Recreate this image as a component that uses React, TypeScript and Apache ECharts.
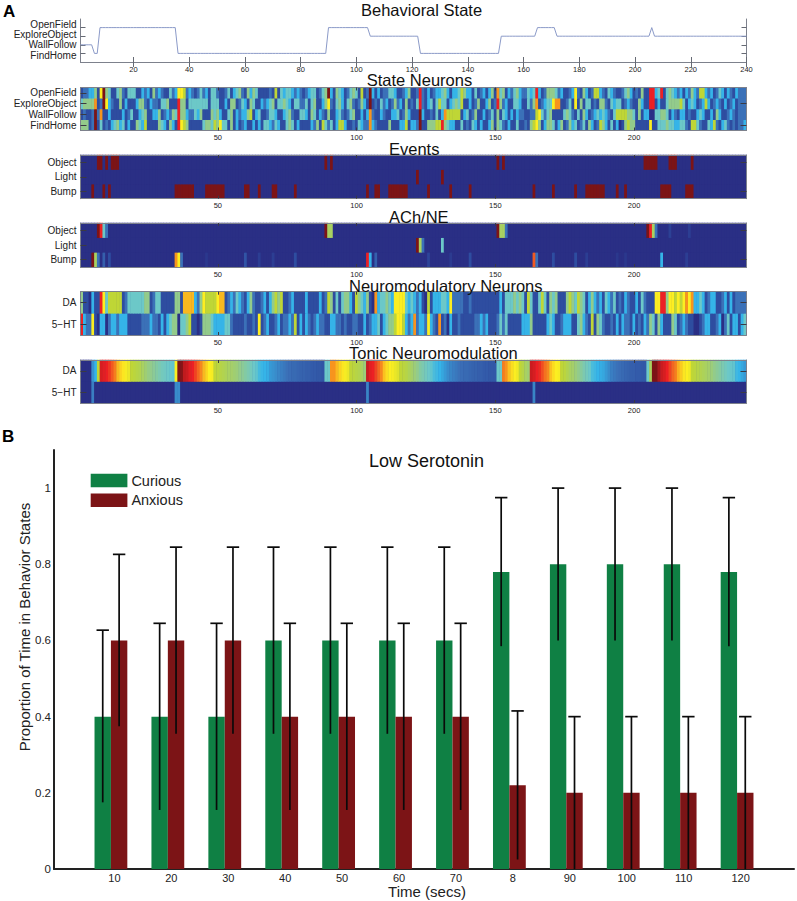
import React, { useEffect, useRef } from "react";
import * as echarts from "echarts";

const FONT = "Liberation Sans";
const CELLS = Array.from({ length: 240 }, (_, i) => String(i + 1));

// Behavioral state: [first second, last second, state]
const behaviorNames = ["FindHome", "WallFollow", "ExploreObject", "OpenField"];
const behaviorRuns = [[1,5,2],[6,7,1],[8,35,4],[36,89,1],[90,104,4],[105,122,3],[123,151,1],[152,164,3],[165,171,4],[172,205,3],[206,206,4],[207,240,3]];

// State neurons, activity level per second (0 navy ... 10 dark red)
const stateOpenField = [1,2,2,3,3,5,1,7,10,5,4,1,1,4,5,2,1,4,4,4,1,1,3,2,3,1,5,2,3,2,1,1,4,2,3,7,7,6,2,3,2,1,2,4,2,3,1,4,4,2,1,1,2,4,1,3,4,5,2,1,5,3,5,4,1,1,1,1,2,1,6,1,4,3,4,4,3,2,3,2,1,2,3,4,4,1,2,4,5,10,3,1,5,4,3,1,2,4,5,4,1,6,1,2,10,3,1,3,1,2,2,4,4,3,1,1,2,3,5,1,1,2,9,2,1,3,1,2,3,3,4,5,3,1,3,3,4,6,5,3,3,1,4,1,2,3,1,3,5,1,8,4,5,1,3,2,4,5,3,2,2,4,3,4,9,3,1,2,5,5,5,4,2,3,1,1,2,3,7,2,1,5,3,1,2,6,6,3,2,1,4,3,2,1,1,2,4,5,3,1,2,1,5,1,1,9,9,3,4,9,1,4,5,4,3,2,3,1,3,2,5,3,2,6,6,3,2,3,1,2,4,3,1,3,2,1,3,2,2,2];
const stateExploreObject = [4,5,5,5,5,8,1,2,10,7,3,2,1,1,5,1,3,1,1,1,3,5,5,2,1,3,2,2,1,4,4,5,1,1,1,9,5,5,1,4,4,4,4,4,4,4,1,4,4,4,1,1,3,1,5,5,1,2,4,3,1,5,4,1,1,3,2,3,4,5,1,4,4,5,4,3,1,4,4,2,2,4,1,4,5,1,1,3,5,7,2,1,4,5,3,1,4,5,2,1,2,5,3,1,10,1,2,1,4,2,3,1,2,5,2,3,1,5,1,2,1,4,9,2,1,3,4,1,4,6,4,4,1,3,4,5,4,6,1,1,3,1,2,5,1,1,3,5,1,2,9,5,2,3,1,1,4,4,3,1,1,4,2,5,8,1,2,3,4,4,7,8,8,1,1,2,4,1,7,1,5,1,4,4,1,2,1,5,5,2,1,4,3,4,4,1,2,3,2,1,1,5,3,1,1,9,9,1,3,1,1,4,5,5,5,5,6,4,1,3,4,3,1,2,3,6,3,1,2,3,2,1,3,1,2,3,1,2,2,2];
const stateWallFollow = [1,2,1,1,2,10,2,8,1,1,3,1,1,1,1,3,1,2,4,1,1,3,4,5,1,1,3,3,5,1,2,3,2,5,4,9,5,5,3,2,2,4,3,5,1,1,1,5,4,5,3,1,1,4,5,1,3,2,3,3,5,6,1,3,4,1,1,2,4,4,3,1,1,3,4,5,2,1,1,4,4,3,1,5,4,1,3,2,1,5,1,1,3,4,2,1,2,4,5,1,1,3,1,3,8,2,1,1,3,2,1,1,3,3,4,1,2,5,3,1,1,1,10,3,1,1,2,1,4,1,3,8,6,6,6,6,6,1,3,4,1,2,5,1,1,3,1,2,4,1,5,1,4,3,1,3,1,3,2,2,1,1,2,2,6,7,4,2,4,5,1,1,1,1,4,5,4,2,1,4,1,5,3,1,2,3,4,3,4,3,2,1,4,6,6,6,6,5,5,4,1,5,1,3,3,0,0,4,4,5,5,4,1,3,2,1,3,3,1,2,1,1,3,4,3,1,1,3,1,5,3,1,1,2,3,2,1,2,2,2];
const stateFindHome = [5,5,5,1,2,10,1,4,1,2,1,3,4,5,3,4,1,3,1,1,5,4,3,6,1,1,1,1,5,4,3,1,5,3,1,9,7,6,5,1,1,1,1,1,4,5,5,4,6,5,7,4,4,1,5,1,3,1,2,3,1,1,3,1,3,1,4,4,3,2,4,3,1,1,4,5,4,1,3,1,1,1,1,3,2,5,1,6,4,2,4,1,3,6,6,3,1,1,2,1,4,3,2,2,8,3,2,1,1,1,1,5,1,1,1,3,3,6,1,3,3,2,10,1,1,5,5,5,6,6,9,5,4,3,3,1,1,4,1,2,1,4,3,1,3,1,1,3,5,1,5,4,2,1,3,1,1,4,1,1,2,1,5,6,7,5,1,3,5,5,4,1,3,5,1,2,5,3,4,1,2,4,1,5,3,1,2,6,5,3,1,4,1,3,0,1,5,6,5,5,1,1,1,1,1,7,1,1,4,4,4,5,4,4,3,3,4,4,2,1,6,6,4,2,1,1,4,3,6,2,1,3,4,2,1,2,1,2,2,3];

// Events: [first second, last second] during which each event is on
const eventNames = ["Bump", "Light", "Object"];
const eventsObject = [[7,8],[10,10],[12,14],[89,89],[91,91],[151,151],[153,153],[204,208],[213,215],[221,221]];
const eventsLight = [[122,122],[131,131]];
const eventsBump = [[5,5],[9,9],[11,11],[35,41],[46,52],[60,61],[65,65],[70,71],[78,78],[104,104],[107,108],[112,118],[126,126],[134,134],[141,141],[164,164],[171,171],[179,179],[183,189],[194,194],[197,197],[210,213],[219,221]];

// ACh/NE: [second, level], everything else at 0
const achObject = [[7,10],[8,9],[9,4],[10,2],[89,10],[90,5.5],[91,5.5],[151,10],[152,5.5],[153,5.5],[154,2],[205,10],[206,9],[207,5.5],[208,2],[213,0.6],[220,0.5]];
const achLight = [[122,10],[123,5.5],[124,2],[131,4]];
const achBump = [[5,10],[6,5.5],[7,2],[9,1.5],[11,1],[35,8],[36,7],[37,2],[46,0.3],[60,1.2],[65,0.5],[70,0.5],[78,1],[104,9],[105,3],[107,1.5],[126,0.7],[134,0.4],[141,1],[164,8.5],[165,2],[171,1],[179,1],[183,0.5],[194,0.3],[197,0.3],[210,3],[219,0.5]];

// Neuromodulatory neurons
const modNames = ["5\u2212HT", "DA"];
const neuronDA = [5,1,1,0,3,1,1,9,7,4,6,6,6,6,6,1,2,4,4,4,4,4,4,5,5,1,2,4,4,1,1,1,1,1,5,5,1,7.6,7.6,7.6,7.6,3,2,5,7,6,6,6,6,7,7.6,7.6,1,2,3,2,4,3,2,1,3,5,2,1,1,2,3,1,3,5,6,5,6,1,1,2,3,1,1,1,1,3,1,1,1,1,3,1,2,6,5,1,4,1,4,5,5,3,1,6,5,4,3,5,1,0,8,3,4,4,5,4,3,7,7,7,7,4,3,4,3,2,3,1,0,6,1,3,3,3,4,4,3,7,2,2,2,2,1,1,2,1,1,1,1,1,1,1,1,1,1,3,1,4,4,4,5,4,5,4,1,6,4,1,1,4,6,4,1,5,4,5,1,1,1,5,6,5,4,6,5,4,1,3,5,3,2,3,1,4,3,2,4,1,2,1,3,2,1,1,3,1,4,2,1,1,1,7,7,9,9,5,7,7,6,7,6,7,8,7,8,3,3,4,3,1,2,3,3,1,1,2,3,1,3,1,2,2,2,2];
const neuron5HT = [9,3,2,2,7,1,0,3,3,0,2,3,3,2,3,3,3,1,1,1,1,1,2,2,2,3,2,2,1,3,1,3,4,5,5,0,4,4,5,6,1,1,0,1,5,5,5,4,3,3,3,3,4,4,2,1,1,1,1,2,1,1,2,1,7,1,2,3,1,1,2,3,1,2,2,3,2,6,1,3,1,3,2,1,2,3,2,2,1,1,3,3,2,2,1,2,1,1,2,2,1,1,3,1,2,3,3,4,1,3,4,5,5,6,7,7,6,3,2,3,8,2,3,3,2,7,3,2,1,8,1,2,0,3,1,1,2,1,1,1,1,1,2,2,3,2,3,1,1,1,2,4,2,4,1,1,1,1,1,3,3,3,5,1,1,1,1,1,3,4,3,1,1,2,3,3,3,1,1,4,5,3,2,1,6,1,5,4,2,1,1,2,1,3,1,3,2,2,1,3,1,2,1,3,2,5,4,1,5,3,1,1,1,5,4,1,2,3,2,1,1,0,0,1,2,3,3,1,1,2,3,0,2,4,1,3,3,1,3,4];

// Tonic neuromodulation
const tonicDA = [0,0,0,0,2.5,3,6,9.2,9.1,9,8.8,8.5,8.2,7.6,7.3,7.1,6.9,6.7,6,5.9,5.8,5.7,5.5,5.3,5.1,5,4.8,4.6,4.4,4.2,4.1,4,3.9,3.8,7,10,9.9,9.4,9.3,9.1,9,8.7,8.4,8.1,7.6,7.3,7,6.9,6,5.9,5.8,5.7,5.6,5.5,5.4,5.3,5.2,5,4.8,4.6,4.4,4.2,4,3.8,3.3,3.1,3,2.9,2.6,2.5,2.4,2.3,2.2,2.1,2,1.9,1.8,1.8,1.7,1.6,1.6,1.5,1.5,1.4,1.4,1.3,1.3,1.2,4,4,8,8,7.6,7.3,7.1,6.9,6.7,6,5.9,5.8,5.7,5.5,5.2,9.3,9.1,9,8.7,8.4,8.1,7.5,7.2,7,6.9,6.7,6.5,6,5.9,5.8,5.6,5.4,5.2,5,4.6,4.4,4.2,4,3.8,3.4,3.2,3,2.8,2.6,2.4,2.3,2.2,2.1,2,1.9,1.8,1.8,1.7,1.6,1.6,1.5,1.5,1.4,1.4,1.3,1.3,1.3,4,4,8.2,8,7.5,7.2,7,6.8,6,5.8,5.5,5.3,9.3,9.2,9,8.9,8.6,8.3,8.1,7.5,7.2,7,6.9,6,5.9,5.7,5.5,5.4,5.2,5,4.7,4.4,4.2,4,3.4,3.2,3,2.9,2.8,2.6,2.4,2.2,2.1,2,1.9,1.8,1.7,1.6,1.5,1.5,1.4,1.4,1.3,1.3,4,5.5,10,10,9.6,9.3,9.2,9,8.7,8.4,8.2,7.7,7.4,7.1,7,6.8,6,5.9,5.8,5.7,5.6,5.5,5.4,5.2,5,4.8,4.6,4.4,4.2,4,3.9,3.8,3.2,3,2.8,2.6];
const tonic5HT = [[5,2.2],[35,2.4],[36,2.4],[104,2.3],[164,2.3]];

// Panel B
const timeTicks = [10,20,30,40,50,60,70,80,90,100,110,120];
const timeLabels = ["10","20","30","40","50","60","70","8","90","100","110","120"];
const curious = [0.4,0.4,0.4,0.6,0.6,0.6,0.6,0.78,0.8,0.8,0.8,0.78];
const curiousLow = [0.175,0.155,0.155,0.355,0.355,0.355,0.355,0.585,0.6,0.6,0.6,0.585];
const curiousHigh = [0.627,0.645,0.645,0.845,0.845,0.845,0.845,0.975,1,1,1,0.975];
const anxious = [0.6,0.6,0.6,0.4,0.4,0.4,0.4,0.22,0.2,0.2,0.2,0.2];
const anxiousLow = [0.375,0.355,0.355,0.155,0.155,0.155,0.155,0.025,0,0,0,0];
const anxiousHigh = [0.826,0.845,0.845,0.645,0.645,0.645,0.645,0.415,0.4,0.4,0.4,0.4];

const JET = ["#2a2f85","#2e4da0","#3b71b8","#35b4e8","#6cc8c8","#93cb8b","#bfd636","#fcee21","#f7941e","#ec2024","#7c1416"];
const LEFT = 80.5, WIDTH = 666, HALF_BAR = 8.2;

function fromRuns(runs: number[][]) {
  const a = new Array(240).fill(0);
  runs.forEach(([s, e]) => { for (let i = s; i <= e; i++) a[i - 1] = 10; });
  return a;
}
function fromPulses(p: number[][]) {
  const a = new Array(240).fill(0);
  p.forEach(([c, v]) => { a[c - 1] = v; });
  return a;
}
function behaviorSeries() {
  const a: number[] = [];
  behaviorRuns.forEach(([s, e, v]) => { for (let i = s; i <= e; i++) a.push(v); });
  return a;
}

const PANELS = [
  { top: 87.5, height: 43, names: behaviorNames, rows: [stateFindHome, stateWallFollow, stateExploreObject, stateOpenField] },
  { top: 155, height: 43.7, names: eventNames, rows: [fromRuns(eventsBump), fromRuns(eventsLight), fromRuns(eventsObject)] },
  { top: 223, height: 44, names: eventNames, rows: [fromPulses(achBump), fromPulses(achLight), fromPulses(achObject)] },
  { top: 291.7, height: 43.3, names: modNames, rows: [neuron5HT, neuronDA] },
  { top: 360, height: 43, names: modNames, rows: [fromPulses(tonic5HT), tonicDA] },
];
const TITLES: [string, number, number][] = [
  ["Behavioral State", 361, 1],
  ["State Neurons", 366.7, 71],
  ["Events", 389, 140],
  ["ACh/NE", 389, 208],
  ["Neuromodulatory Neurons", 349, 277],
  ["Tonic Neuromodulation", 349, 344],
];

function buildOption() {
  const grid: any[] = [], xAxis: any[] = [], yAxis: any[] = [], series: any[] = [];
  const GREY = "#7d818c", TICK = "#3a3a44";
  const textBase = { fontFamily: FONT, color: "#222" };

  // Behavioral state line
  grid.push({ left: LEFT, width: WIDTH, top: 19, height: 43 });
  const lineTick = { show: true, inside: true, length: 5, lineStyle: { color: "#666a74", width: 1 } };
  xAxis.push({
    gridIndex: 0, type: "category", data: CELLS, boundaryGap: false, position: "bottom",
    axisLine: { lineStyle: { color: GREY, width: 1 } },
    axisTick: { ...lineTick, alignWithLabel: true, interval: (i: number) => (i + 1) % 20 === 0 },
    axisLabel: { ...textBase, fontSize: 7.5, margin: 3, interval: (i: number) => (i + 1) % 20 === 0 },
  });
  xAxis.push({
    gridIndex: 0, type: "category", data: CELLS, boundaryGap: false, position: "top",
    axisLine: { lineStyle: { color: GREY, width: 1 } },
    axisTick: { ...lineTick, alignWithLabel: true, interval: (i: number) => (i + 1) % 20 === 0 },
    axisLabel: { show: false },
  });
  const stateAxis = (position: string) => ({
    gridIndex: 0, type: "value", min: 0, max: 5, interval: 1, position, splitLine: { show: false },
    axisLine: { show: true, lineStyle: { color: GREY, width: 1 } },
    axisTick: { ...lineTick, customValues: [1, 2, 3, 4] },
    axisLabel: { show: false },
  });
  yAxis.push(stateAxis("left"), stateAxis("right"));
  yAxis.push({
    gridIndex: 0, type: "value", min: 0.307, max: 4.564, position: "left", splitLine: { show: false },
    axisLine: { show: false }, axisTick: { show: false },
    axisLabel: { ...textBase, fontSize: 10, margin: 4, customValues: [1, 2, 3, 4], formatter: (v: number) => behaviorNames[v - 1] || "" },
  });
  series.push({
    type: "line", xAxisIndex: 0, yAxisIndex: 0, data: behaviorSeries(), showSymbol: false, symbol: "none",
    lineStyle: { color: "#8b9ac8", width: 1 },
  });

  // Heat maps
  const heatIndex: number[] = [];
  PANELS.forEach((p, k) => {
    const g = k + 1;
    grid.push({ left: LEFT, width: WIDTH, top: p.top, height: p.height, show: true, backgroundColor: JET[0], borderWidth: 0 });
    const ax = { lineStyle: { color: GREY, width: 1 } };
    const tick = { show: true, inside: true, length: 3, alignWithLabel: true, lineStyle: { color: TICK, width: 1 } };
    const every50 = (i: number) => (i + 1) % 50 === 0;
    const xi = xAxis.length;
    xAxis.push({
      gridIndex: g, type: "category", data: CELLS, position: "bottom", z: 5, axisLine: ax,
      axisTick: { ...tick, interval: every50 },
      axisLabel: { ...textBase, fontSize: 7.5, margin: 3, interval: every50 },
    });
    xAxis.push({
      gridIndex: g, type: "category", data: CELLS, position: "top", z: 5, axisLine: ax,
      axisTick: { ...tick, interval: every50 }, axisLabel: { show: false },
    });
    const yi = yAxis.length;
    yAxis.push({
      gridIndex: g, type: "category", data: p.names, position: "left", z: 5, axisLine: ax,
      axisTick: { ...tick, length: 6 },
      axisLabel: { ...textBase, fontSize: 10, margin: 4, interval: 0 },
    });
    yAxis.push({
      gridIndex: g, type: "category", data: p.names, position: "right", z: 5, axisLine: ax,
      axisTick: { ...tick, length: 6 }, axisLabel: { show: false },
    });
    const data: number[][] = [];
    p.rows.forEach((row, r) => row.forEach((v: number, c: number) => data.push([c, r, v])));
    heatIndex.push(series.length);
    series.push({ type: "heatmap", xAxisIndex: xi, yAxisIndex: yi, data, progressive: 0, itemStyle: { borderWidth: 0 } });
  });

  // Panel B
  const gb = grid.length;
  grid.push({ left: 54, width: 740, top: 450, height: 419 });
  const xb = xAxis.length;
  xAxis.push({
    gridIndex: gb, type: "value", min: 0, max: 130, interval: 10, splitLine: { show: false },
    axisLine: { show: true, lineStyle: { color: "#222", width: 2 } }, axisTick: { show: false },
    axisLabel: {
      ...textBase, fontSize: 11, margin: 3, padding: [0, 0, 0, 7],
      formatter: (v: number) => { const i = timeTicks.indexOf(v); return i >= 0 ? timeLabels[i] : ""; },
    },
    name: "Time (secs)", nameLocation: "middle", nameGap: 14,
    nameTextStyle: { fontFamily: FONT, fontSize: 15, color: "#222", padding: [0, 0, 0, 6] },
  });
  const yb = yAxis.length;
  yAxis.push({
    gridIndex: gb, type: "value", min: 0, max: 1.1, interval: 0.2, splitLine: { show: false },
    axisLine: { show: true, lineStyle: { color: "#222", width: 2 } }, axisTick: { show: false },
    axisLabel: { ...textBase, fontSize: 11.5, margin: 3, showMaxLabel: false, formatter: (v: number) => String(+v.toFixed(1)) },
    name: "Proportion of Time in Behavior States", nameLocation: "middle", nameGap: 22, nameMoveOverlap: false,
    nameTextStyle: { fontFamily: FONT, fontSize: 15, color: "#222", padding: [0, 0, 0, 65] },
  });
  const bar = (name: string, color: string, values: number[]) => ({
    name, type: "bar", xAxisIndex: xb, yAxisIndex: yb, barWidth: HALF_BAR * 2, barGap: "0%",
    data: timeTicks.map((t, i) => [t, values[i]]), itemStyle: { color },
  });
  series.push(bar("Curious", "#0f8044", curious), bar("Anxious", "#7c1416", anxious));
  const errorBars = (name: string, shift: number, low: number[], high: number[]) => ({
    name, type: "custom", xAxisIndex: xb, yAxisIndex: yb, z: 4,
    data: timeTicks.map((t, i) => [t, low[i], high[i]]),
    encode: { x: 0, y: [1, 2] },
    renderItem: (_: any, api: any) => {
      const a = api.coord([api.value(0), api.value(1)]);
      const b = api.coord([api.value(0), api.value(2)]);
      const x = a[0] + shift;
      const style = { stroke: "#0a0a0a", lineWidth: 1.7, fill: "none" };
      return {
        type: "group",
        children: [
          { type: "line", shape: { x1: x, y1: a[1], x2: x, y2: b[1] }, style },
          { type: "line", shape: { x1: x - 6.2, y1: b[1], x2: x + 6.2, y2: b[1] }, style },
        ],
      };
    },
  });
  series.push(errorBars("Curious error", -HALF_BAR, curiousLow, curiousHigh));
  series.push(errorBars("Anxious error", HALF_BAR, anxiousLow, anxiousHigh));

  const titleStyle = { fontFamily: FONT, fontWeight: "normal", fontSize: 16.5, color: "#111" };
  const title: any[] = TITLES.map(([text, left, top]) => ({ text, left, top, padding: 0, textStyle: titleStyle }));
  title.push({ text: "Low Serotonin", left: 369, top: 452, padding: 0, textStyle: { ...titleStyle, fontSize: 18 } });
  title.push({ text: "A", left: 3, top: 3, padding: 0, textStyle: { ...titleStyle, fontWeight: "bold", fontSize: 17, color: "#000" } });
  title.push({ text: "B", left: 2, top: 428, padding: 0, textStyle: { ...titleStyle, fontWeight: "bold", fontSize: 17, color: "#000" } });

  return {
    animation: false,
    backgroundColor: "#ffffff",
    title,
    grid, xAxis, yAxis, series,
    legend: {
      data: ["Curious", "Anxious"], left: 90.7, top: 473, orient: "vertical", padding: 0,
      itemWidth: 36.7, itemHeight: 13.4, itemGap: 4.8, icon: "rect", selectedMode: false,
      textStyle: { fontFamily: FONT, fontSize: 14.5, color: "#222", padding: [0, 0, 0, -1] },
    },
    visualMap: { show: false, min: 0, max: 10, seriesIndex: heatIndex, inRange: { color: JET } },
  };
}

export default function App() {
  const ref = useRef<HTMLDivElement>(null);
  useEffect(() => {
    const chart = echarts.init(ref.current!, undefined, { renderer: "svg", width: 797, height: 901 });
    chart.setOption(buildOption() as any);
    return () => chart.dispose();
  }, []);
  return <div ref={ref} style={{ position: "absolute", left: 0, top: 0, width: 797, height: 901 }} />;
}
